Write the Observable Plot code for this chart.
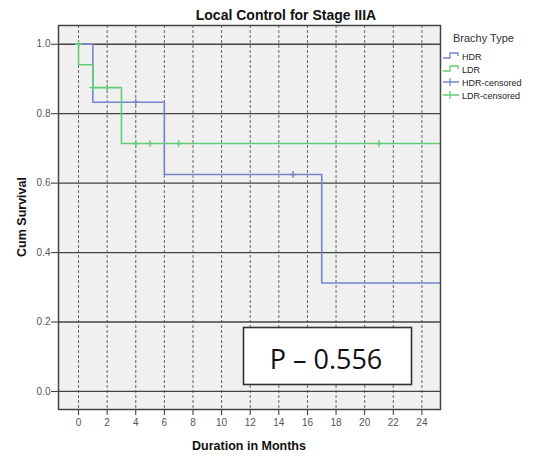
<!DOCTYPE html>
<html>
<head>
<meta charset="utf-8">
<script src="https://cdn.jsdelivr.net/npm/d3@7"></script>
<script src="https://cdn.jsdelivr.net/npm/@observablehq/plot@0.6"></script>
<style>
  html, body { margin: 0; padding: 0; background: #fff; }
  #chart svg { display: block; }
</style>
</head>
<body>
<div id="chart"></div>
<script>
// ---- Data ----
const title = "Local Control for Stage IIIA";
const xLabel = "Duration in Months";
const yLabel = "Cum Survival";
const legendTitle = "Brachy Type";
const legendLabels = ["HDR", "LDR", "HDR-censored", "LDR-censored"];
const pText = "P \u2013 0.556";

// Kaplan-Meier step points (months, cumulative survival)
const hdrTime = [0, 1, 6, 17, 25.3];
const hdrSurv = [1.0, 0.833, 0.625, 0.3125, 0.3125];
const ldrTime = [0, 0, 1, 3, 25.3];
const ldrSurv = [1.0, 0.941, 0.875, 0.714, 0.714];

// Censored observations
const hdrCensTime = [4, 15];
const hdrCensSurv = [0.833, 0.625];
const ldrCensTime = [0, 1, 2, 4, 5, 7, 21];
const ldrCensSurv = [1.0, 0.875, 0.875, 0.714, 0.714, 0.714, 0.714];

const xTicks = [0, 2, 4, 6, 8, 10, 12, 14, 16, 18, 20, 22, 24];
const yTicks = [0, 0.2, 0.4, 0.6, 0.8, 1.0];

const hdrColor = "#7386cc";
const ldrColor = "#66cc77";

const zip = (xs, ys) => xs.map((x, i) => ({x, y: ys[i]}));
const hdr = zip(hdrTime, hdrSurv);
const ldr = zip(ldrTime, ldrSurv);
const hdrC = zip(hdrCensTime, hdrCensSurv);
const ldrC = zip(ldrCensTime, ldrCensSurv);

const font = "'Liberation Sans', Arial, sans-serif";

const svg = Plot.plot({
  width: 538,
  height: 458,
  marginLeft: 58,
  marginRight: 98,
  marginTop: 25,
  marginBottom: 49,
  style: {fontFamily: font, background: "#fff", overflow: "visible"},
  x: {domain: [-1.4, 25.3]},
  y: {domain: [-0.052, 1.054]},
  marks: [
    Plot.frame({fill: "#f0f0f0", stroke: "none"}),
    Plot.gridX({ticks: xTicks, stroke: "#666", strokeOpacity: 1, strokeDasharray: "3,2", strokeWidth: 1}),
    Plot.gridY({ticks: yTicks, stroke: "#444", strokeOpacity: 1, strokeWidth: 1.3}),
    Plot.line(hdr, {x: "x", y: "y", curve: "step-after", stroke: hdrColor, strokeWidth: 1.6}),
    Plot.line(ldr, {x: "x", y: "y", curve: "step-after", stroke: ldrColor, strokeWidth: 1.6}),
    Plot.dot(hdrC, {x: "x", y: "y", symbol: "plus", r: 2.4, stroke: hdrColor, strokeWidth: 1.4}),
    Plot.dot(ldrC, {x: "x", y: "y", symbol: "plus", r: 2.4, stroke: ldrColor, strokeWidth: 1.4}),
    Plot.axisX({ticks: xTicks, tickSize: 6, tickPadding: 3, fontSize: 10, label: null, color: "#555", stroke: "#333"}),
    Plot.axisY({ticks: yTicks, tickSize: 7, tickPadding: 1, fontSize: 10, tickFormat: ".1f", label: null, color: "#555", stroke: "#333"}),
    Plot.frame({stroke: "#444", strokeWidth: 1.5})
  ]
});

const s = d3.select(svg);

// Title
s.append("text").attr("x", 286).attr("y", 20).attr("text-anchor", "middle")
  .attr("font-family", font).attr("font-weight", "bold").attr("font-size", 14).attr("fill", "#111")
  .text(title);

// Axis labels
s.append("text").attr("x", 249).attr("y", 450).attr("text-anchor", "middle")
  .attr("font-family", font).attr("font-weight", "bold").attr("font-size", 12.5).attr("fill", "#111")
  .text(xLabel);
s.append("text").attr("transform", "translate(26,217) rotate(-90)").attr("text-anchor", "middle")
  .attr("font-family", font).attr("font-weight", "bold").attr("font-size", 12.5).attr("fill", "#111")
  .text(yLabel);

// Legend
s.append("text").attr("x", 453).attr("y", 42).attr("text-anchor", "start")
  .attr("font-family", font).attr("font-size", 11).attr("fill", "#333").text(legendTitle);
const rowsY = [56, 69, 82, 95];
const colors = [hdrColor, ldrColor, hdrColor, ldrColor];
legendLabels.forEach((lab, i) => {
  const y = rowsY[i];
  const g = s.append("g");
  if (i < 2) {
    g.append("path").attr("d", `M443,${y + 2}H450V${y - 3}H458V${y}`)
      .attr("fill", "none").attr("stroke", colors[i]).attr("stroke-width", 1.3);
  } else {
    g.append("path").attr("d", `M443,${y}H459M450,${y - 4}V${y + 4}`)
      .attr("fill", "none").attr("stroke", colors[i]).attr("stroke-width", 1.3);
  }
  g.append("text").attr("x", 462).attr("y", y + 3.5).attr("text-anchor", "start")
    .attr("font-family", font).attr("font-size", 9).attr("fill", "#222").text(lab);
});

// P-value annotation box
s.append("rect").attr("x", 243.5).attr("y", 327.5).attr("width", 168).attr("height", 57)
  .attr("fill", "#fff").attr("stroke", "#333").attr("stroke-width", 1.6);
s.append("text").attr("x", 326).attr("y", 369).attr("text-anchor", "middle")
  .attr("font-family", "'Open Sans', 'Noto Sans', sans-serif").attr("font-size", 27).attr("fill", "#111")
  .text(pText);

document.getElementById("chart").appendChild(svg);
</script>
</body>
</html>
